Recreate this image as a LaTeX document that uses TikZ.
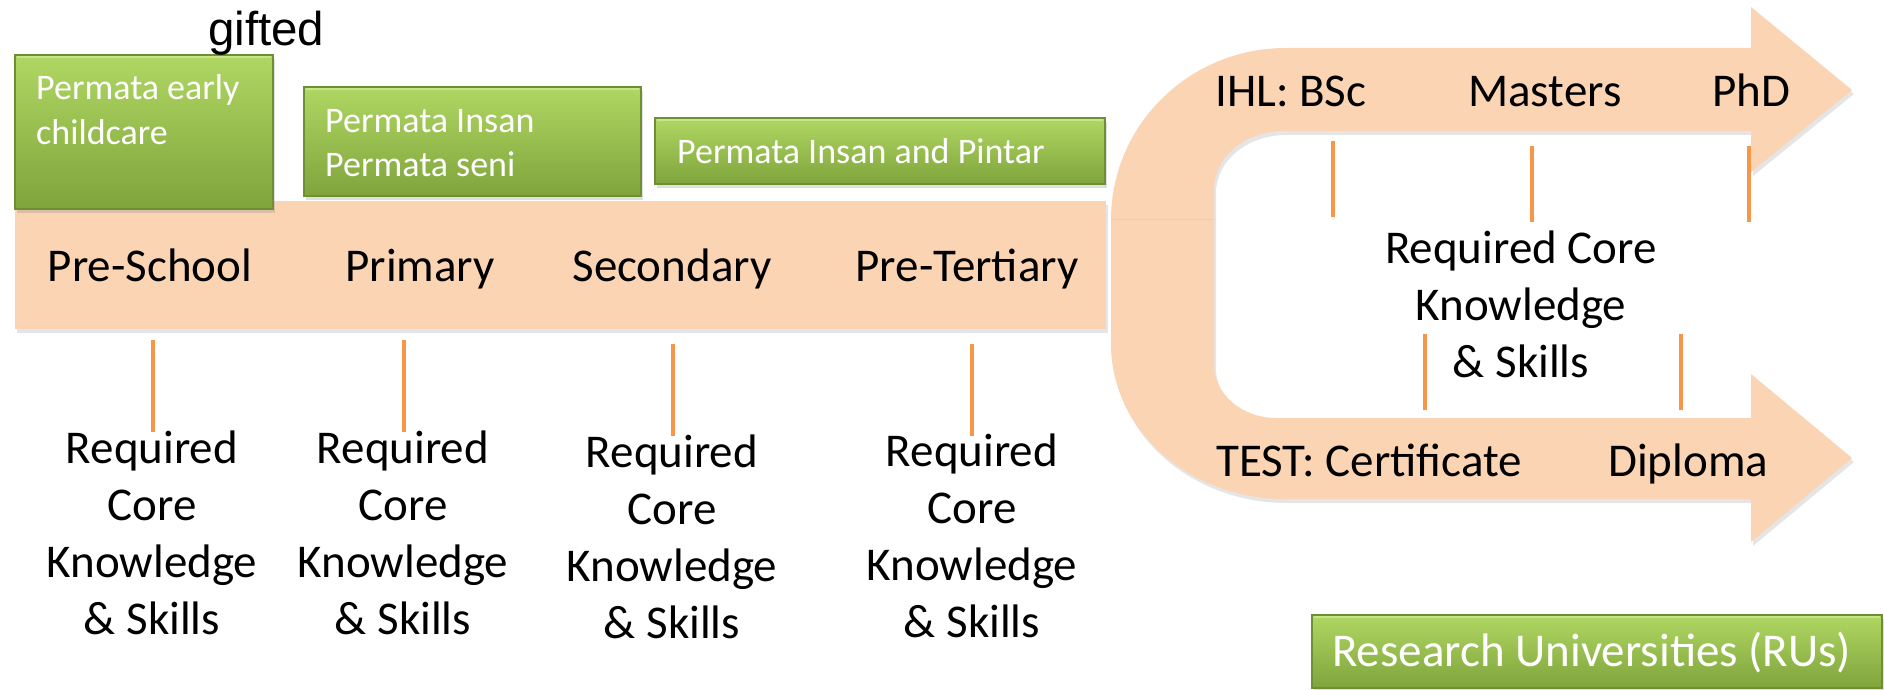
\documentclass[tikz,border=0pt]{standalone}
\usepackage{fontspec}
\setmainfont{Carlito}
\newfontfamily\arialfont{Liberation Sans}
\usetikzlibrary{shadows}
\definecolor{peach}{HTML}{FBD4B4}
\definecolor{peachseam}{HTML}{F2CAA8}
\definecolor{tickorange}{HTML}{F79646}
\definecolor{gtop}{HTML}{B0D763}
\definecolor{gbot}{HTML}{7FA43C}
\definecolor{gline}{HTML}{6F8F34}
\definecolor{ghigh}{HTML}{CFEA8E}
\begin{document}
\begin{tikzpicture}[x=1pt,y=-1pt,
  gbox/.style={rectangle, inner sep=0pt, top color=gtop, bottom color=gbot, draw=gline, line width=1.2pt,
    drop shadow={shadow xshift=2pt, shadow yshift=-4pt, opacity=0.25}},
  gtext/.style={inner sep=0pt, anchor=base west, text=white, font=\fontsize{36}{44}\selectfont},
  btext/.style={inner sep=0pt, anchor=base, font=\fontsize{47}{57}\selectfont},
  ltext/.style={inner sep=0pt, anchor=base west, font=\fontsize{47}{57}\selectfont},
  tickline/.style={draw=tickorange, line width=4.5pt},
  bevel/.style={draw=ghigh, line width=2pt, opacity=0.8},
  peachshadow/.style={drop shadow={shadow xshift=2pt, shadow yshift=-4pt, opacity=0.2}}
]
\useasboundingbox (0,0) rectangle (1884,690);
\fill[white] (0,0) rectangle (1884,690);

% U-turn arrow
\fill[peach, peachshadow]
 (1111,220) .. controls (1111,125) and (1189,48) .. (1286,48)
 -- (1751,48) -- (1751,7) -- (1852,90) -- (1751,172) -- (1751,131)
 -- (1284,131) .. controls (1245,131) and (1214,157) .. (1214,189)
 -- (1214,365) .. controls (1214,394) and (1242,418) .. (1276,418)
 -- (1751,418) -- (1751,374) -- (1852,458) -- (1751,542) -- (1751,499)
 -- (1285,499) .. controls (1189,499) and (1111,430) .. (1111,344)
 -- cycle;
\draw[peachseam, line width=0.8pt] (1111,219) -- (1214,219);

% main bar
\node[rectangle, fill=peach, inner sep=0pt, minimum width=1091pt, minimum height=128pt, peachshadow] (bar) at (560.5,265) {};

% green boxes
\node[gbox, minimum width=258pt, minimum height=154pt] (b1) at (144,132) {};
\node[gbox, minimum width=337pt, minimum height=109pt] (b2) at (472.5,141.5) {};
\node[gbox, minimum width=450pt, minimum height=66pt] (b3) at (880,151) {};
\node[gbox, minimum width=570pt, minimum height=73pt] (b4) at (1597,651.5) {};
\foreach \b in {b1,b2,b3,b4} {
  \draw[bevel] ([xshift=3pt,yshift=-3pt]\b.north west) -- ([xshift=-3pt,yshift=-3pt]\b.north east);
}

\node[gtext] (t1a) at (36,100) {Permata early};
\node[gtext] (t1b) at (36,145) {childcare};
\node[gtext] (t2a) at (325,132) {Permata Insan};
\node[gtext] (t2b) at (325,176) {Permata seni};
\node[gtext] (t3) at (677,164) {Permata Insan and Pintar};
\node[gtext, font=\fontsize{47}{57}\selectfont] (t4) at (1332,666) {Research Universities (RUs)};

\node[inner sep=0pt, anchor=base west, font=\arialfont\fontsize{47.5}{52}\selectfont] (gifted) at (208,46) {gifted};

% stage labels
\node[btext] (s1) at (150,281) {Pre-School};
\node[btext] (s2) at (420,281) {Primary};
\node[btext] (s3) at (672,281) {Secondary};
\node[btext] (s4) at (967,281) {Pre-Tertiary};

% required labels
\foreach \n/\x/\y in {c1/152/463, c2/403/463, c3/672/467, c4/972/466} {
  \node[btext] (\n-1) at (\x,\y) {Required};
  \node[btext] (\n-2) at (\x,\y+57) {Core};
  \node[btext] (\n-3) at (\x,\y+114) {Knowledge};
  \node[btext] (\n-4) at (\x,\y+171) {\& Skills};
}

% ticks
\foreach \n/\x/\ya/\yb in {k1/153/340/432, k2/404/340/432, k3/673/344/436, k4/972/344/436,
    u1/1333/141/217, u2/1532/146/222, u3/1749/146/222, d1/1425/334/410, d2/1681/334/410} {
  \coordinate (\n-a) at (\x,\ya);
  \coordinate (\n-b) at (\x,\yb);
  \draw[tickline] (\n-a) -- (\n-b);
}

% arrow labels
\node[ltext] (ihl) at (1215,107) {IHL: BSc};
\node[ltext] (mas) at (1468,107) {Masters};
\node[ltext] (phd) at (1712,107) {PhD};
\node[ltext] (test) at (1216,476) {TEST: Certificate};
\node[ltext] (dip) at (1608,476) {Diploma};
\node[btext] (r1) at (1521,263) {Required Core};
\node[btext] (r2) at (1521,320) {Knowledge};
\node[btext] (r3) at (1521,377) {\& Skills};
\end{tikzpicture}
\end{document}
